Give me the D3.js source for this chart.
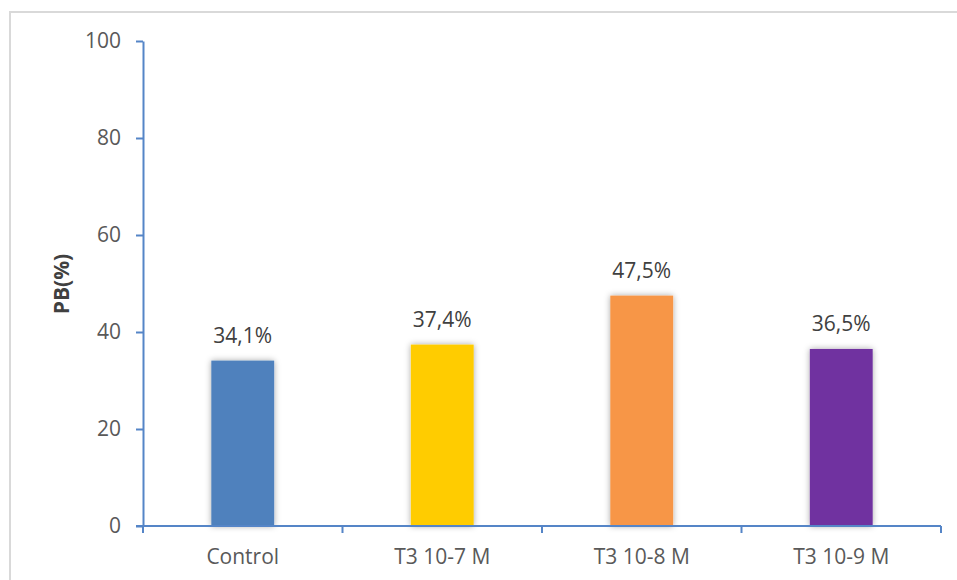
<!DOCTYPE html>
<html>
<head>
<meta charset="utf-8">
<script src="https://cdn.jsdelivr.net/npm/d3@7"></script>
<style>
  html, body { margin: 0; padding: 0; background: #fff; }
  svg { display: block; }
  text { font-family: "Open Sans", "Liberation Sans", sans-serif; }
</style>
</head>
<body>
<svg id="chart" width="957" height="580"></svg>
<script>
// Data
const categories = ["Control", "T3 10-7 M", "T3 10-8 M", "T3 10-9 M"];
const values = [34.1, 37.4, 47.5, 36.5];
const valueLabels = ["34,1%", "37,4%", "47,5%", "36,5%"];
const barColors = ["#4f81bd", "#ffcc00", "#f79646", "#7030a0"];
const yTicks = [0, 20, 40, 60, 80, 100];
const yTitle = "PB(%)";

const svg = d3.select("#chart");
const W = 957, H = 580;
const axisColor = "#5585c7";
const fontSize = 21;

// Chart frame
svg.append("rect")
  .attr("x", 10).attr("y", 12)
  .attr("width", W + 20).attr("height", H + 20)
  .attr("fill", "#fff")
  .attr("stroke", "#d9d9d9").attr("stroke-width", 2);

// Soft drop shadow for the bars
const defs = svg.append("defs");
const f = defs.append("filter").attr("id", "shadow")
  .attr("x", "-30%").attr("y", "-10%").attr("width", "160%").attr("height", "120%");
f.append("feDropShadow")
  .attr("dx", 0).attr("dy", 0).attr("stdDeviation", 3)
  .attr("flood-color", "#000").attr("flood-opacity", 0.35);

const x = d3.scaleBand().domain(categories).range([143, 941]).paddingInner(0.685).paddingOuter(0.3425);
const y = d3.scaleLinear().domain([0, 100]).range([526, 41]);

// Bars
svg.append("g").selectAll("rect").data(values).join("rect")
  .attr("x", (d, i) => x(categories[i]))
  .attr("y", d => y(d))
  .attr("width", x.bandwidth())
  .attr("height", d => y(0) - y(d))
  .attr("fill", (d, i) => barColors[i])
  .attr("filter", "url(#shadow)");

// Value labels
svg.append("g").selectAll("text").data(values).join("text")
  .attr("x", (d, i) => x(categories[i]) + x.bandwidth() / 2)
  .attr("y", d => y(d) - 18)
  .attr("text-anchor", "middle")
  .attr("font-size", fontSize)
  .attr("fill", "#404040")
  .text((d, i) => valueLabels[i]);

// Y axis
const yAxis = svg.append("g")
  .attr("transform", "translate(143,0)")
  .call(d3.axisLeft(y).tickValues(yTicks).tickSize(7).tickSizeOuter(0).tickPadding(15));
yAxis.select(".domain").attr("stroke", axisColor).attr("stroke-width", 2);
yAxis.selectAll(".tick line").attr("stroke", axisColor).attr("stroke-width", 2);
yAxis.selectAll(".tick text")
  .attr("font-size", fontSize).attr("fill", "#595959")
  .attr("font-family", "'Open Sans', sans-serif");

// X axis with boundary ticks between categories
const xg = svg.append("g").attr("transform", `translate(0,${y(0)})`);
xg.append("line")
  .attr("x1", 136).attr("x2", 941).attr("y1", 0).attr("y2", 0)
  .attr("stroke", axisColor).attr("stroke-width", 2);
const step = x.step();
const bounds = d3.range(categories.length + 1).map(i => 143 + i * step);
xg.selectAll("line.tk").data(bounds).join("line").attr("class", "tk")
  .attr("x1", d => d).attr("x2", d => d).attr("y1", 0).attr("y2", 7)
  .attr("stroke", axisColor).attr("stroke-width", 2);
xg.selectAll("text").data(categories).join("text")
  .attr("x", d => x(d) + x.bandwidth() / 2)
  .attr("y", 38)
  .attr("text-anchor", "middle")
  .attr("font-size", fontSize)
  .attr("fill", "#595959")
  .text(d => d);

// Y axis title
svg.append("text")
  .attr("transform", "translate(69,284) rotate(-90)")
  .attr("text-anchor", "middle")
  .attr("font-size", fontSize)
  .attr("font-weight", "bold")
  .attr("fill", "#404040")
  .text(yTitle);
</script>
</body>
</html>
